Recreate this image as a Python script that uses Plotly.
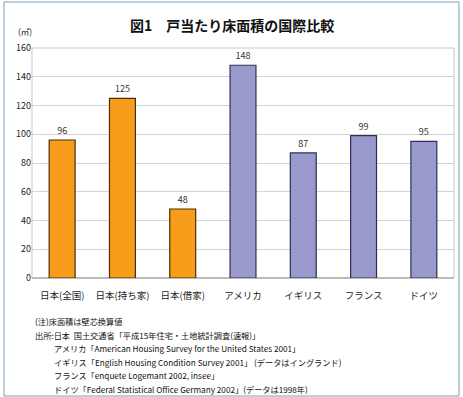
import plotly.graph_objects as go

categories = ["日本(全国)", "日本(持ち家)", "日本(借家)", "アメリカ", "イギリス", "フランス", "ドイツ"]
values = [96, 125, 48, 148, 87, 99, 95]
japan_flags = [True, True, True, False, False, False, False]
y_ticks = [0, 20, 40, 60, 80, 100, 120, 140, 160]
title_text = "図1　戸当たり床面積の国際比較"
unit_text = "(㎡)"
notes = [
    "(注)床面積は壁芯換算値",
    "出所:日本  国土交通省「平成15年住宅・土地統計調査(速報)」",
    "アメリカ「American Housing Survey for the United States 2001」",
    "イギリス「English Housing Condition Survey 2001」 (データはイングランド)",
    "フランス「enquete Logemant 2002, insee」",
    "ドイツ「Federal Statistical Office Germany 2002」(データは1998年)",
]
note_indent = [False, False, True, True, True, True]

FONT = "Noto Sans CJK JP"
fill = ["#F89C1C" if j else "#9999CC" for j in japan_flags]
edge = ["#4A2E05" if j else "#2E2E55" for j in japan_flags]

fig = go.Figure()
fig.add_trace(go.Bar(
    x=categories, y=values,
    marker=dict(color=fill, line=dict(color=edge, width=1.2)),
    text=[str(v) for v in values], textposition="outside",
    textfont=dict(size=9, color="#333333", family=FONT),
    cliponaxis=False,
))

W, H = 463, 397
L, R, T, B = 32, 9, 48, 119
pw = W - L - R
ph = H - T - B

fig.update_layout(
    width=W, height=H,
    margin=dict(l=L, r=R, t=T, b=B),
    paper_bgcolor="white", plot_bgcolor="white",
    showlegend=False,
    bargap=0.57,
    font=dict(family=FONT, size=9, color="#222222"),
    xaxis=dict(showgrid=False, tickfont=dict(size=9.5, family=FONT, color="#222222"),
               ticks="", showline=False, mirror=False, ticklabelstandoff=10),
    yaxis=dict(range=[0, 160], tickvals=y_ticks, showgrid=True, gridcolor="#D4D4D4",
               gridwidth=1, zeroline=True, zerolinecolor="#BBBBBB", showline=False,
               tickfont=dict(size=9, family=FONT, color="#222222"), ticks=""),
)

# plot area frame
fig.add_shape(type="rect", xref="paper", yref="paper", x0=0, y0=0, x1=1, y1=1,
              line=dict(color="#C8C8C8", width=1), layer="below")

# outer blue frame
fig.add_shape(type="rect", xref="paper", yref="paper",
              x0=(4 - L) / pw, x1=(459 - L) / pw,
              y0=-(396 - (H - B)) / ph, y1=1 + (T - 2) / ph,
              line=dict(color="#7F9DB9", width=1))

fig.add_annotation(text="<b>" + title_text + "</b>", xref="paper", yref="paper",
                   x=(232 - L) / pw, y=1 + (T - 25) / ph, xanchor="center", yanchor="middle",
                   showarrow=False, font=dict(size=14, family=FONT, color="#111111"))
fig.add_annotation(text=unit_text, xref="paper", yref="paper",
                   x=(25 - L) / pw, y=1 + (T - 31) / ph, xanchor="center", yanchor="middle",
                   showarrow=False, font=dict(size=8.5, family=FONT, color="#222222"))

for i, (line, ind) in enumerate(zip(notes, note_indent)):
    ypix = 321 + i * 13.5
    fig.add_annotation(text=line, xref="paper", yref="paper",
                       x=((52 if ind else 33) - L) / pw, y=-(ypix - (H - B)) / ph,
                       xanchor="left", yanchor="middle", showarrow=False,
                       font=dict(size=8.2, family=FONT, color="#111111"))

fig.write_html("out.html", config={"displayModeBar": False})

# remove default browser body margin so the figure sits at the page origin
with open("out.html", encoding="utf-8") as f:
    html = f.read()
html = html.replace("<head>", "<head><style>html,body{margin:0;padding:0;overflow:hidden}</style>", 1)
with open("out.html", "w", encoding="utf-8") as f:
    f.write(html)
